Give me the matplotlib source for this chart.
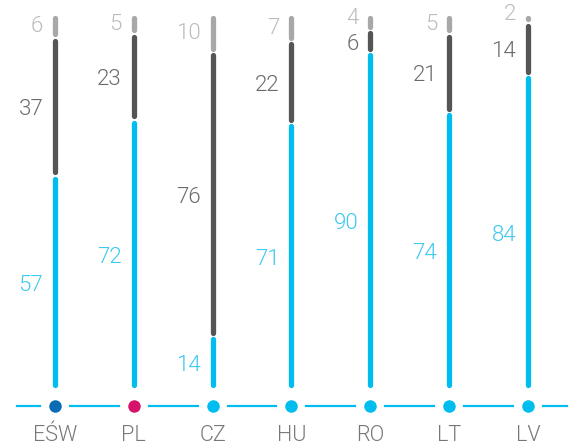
import matplotlib
matplotlib.use("Agg")
import matplotlib.pyplot as plt

# data
countries = ['EŚW', 'PL', 'CZ', 'HU', 'RO', 'LT', 'LV']
blue_vals = [57, 72, 14, 71, 90, 74, 84]
dark_vals = [37, 23, 76, 22, 6, 21, 14]
light_vals = [6, 5, 10, 7, 4, 5, 2]
dot_colors = ['#0a6cb4', '#d6136b', '#00bdf0', '#00bdf0', '#00bdf0', '#00bdf0', '#00bdf0']

seg_colors = ['#00bdf0', '#555555', '#a8a8aa']
label_colors = ['#3cc9f2', '#6a6a6a', '#bcbcbc']
label_nudge = [-1.0, -0.8, 0.0]

plt.rcParams['font.family'] = ['Roboto', 'DejaVu Sans']

fig = plt.figure(figsize=(5.74, 4.48), dpi=100)
ax = fig.add_axes([0, 0, 1, 1])
ax.set_xlim(-0.698, 6.586)
ax.set_ylim(-16.09, 104.02)
ax.axis('off')

shrink = 0.85
for i in range(len(countries)):
    bottom = 0
    for k, vals in enumerate([blue_vals, dark_vals, light_vals]):
        v = vals[i]
        top = bottom + v
        y0 = bottom + shrink
        y1 = top - shrink
        if y1 < y0:
            y0 = y1 = (bottom + top) / 2
        ax.plot([i, i], [y0, y1], color=seg_colors[k], lw=3.8,
                solid_capstyle='round')
        mid = (bottom + top) / 2 + label_nudge[k]
        if k == 2 and v < 5:
            mid += 1.0  # short top segment: keep its label clear of the one below
        ax.text(i - 0.15, mid, str(v), ha='right', va='center',
                fontsize=16, color=label_colors[k], fontweight=300)
        bottom = top

# baseline with dots
base_y = -4.83
gap = 0.19
ax.plot([-0.482, -gap], [base_y, base_y], color='#00bdf0', lw=1.6)
for i in range(len(countries) - 1):
    ax.plot([i + gap, i + 1 - gap], [base_y, base_y], color='#00bdf0', lw=1.6)
ax.plot([len(countries) - 1 + gap, 6.497], [base_y, base_y], color='#00bdf0', lw=1.6)

for i in range(len(countries)):
    ax.plot(i, base_y, 'o', color=dot_colors[i], markersize=9, markeredgewidth=0)
    ax.text(i, -12.8, countries[i], ha='center', va='center', fontsize=15.5,
            color='#777777', fontweight=300)

fig.savefig('out.png', dpi=100)
